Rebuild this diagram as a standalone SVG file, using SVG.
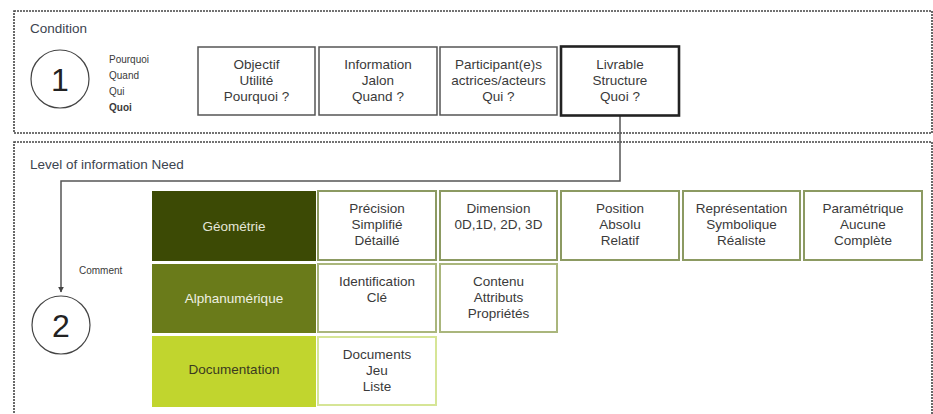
<svg xmlns="http://www.w3.org/2000/svg" width="933" height="414" viewBox="0 0 933 414">
<defs>
<style>
text{font-family:"Liberation Sans",Arial,sans-serif;fill:#3a3a3a}
.t{font-size:13.5px;text-anchor:middle}
.s{font-size:10px}
.h{font-size:13.5px;fill:#3c4450}
.zone{fill:none;stroke:#444;stroke-width:1.6;stroke-dasharray:2 1}
.q{fill:#fff;stroke:#555;stroke-width:1.5}
.circ{fill:#fff;stroke:#444;stroke-width:1.2}
.num{font-size:32px;text-anchor:middle;fill:#222}
.r1{fill:#fff;stroke:#8c9a62;stroke-width:2}
.r2{fill:#fff;stroke:#aab67c;stroke-width:2}
.r3{fill:#fff;stroke:#d6e596;stroke-width:2}
.lab{font-size:13.5px;text-anchor:middle}
.conn{fill:none;stroke:#555;stroke-width:1.5}
</style>
<marker id="arr" viewBox="0 0 10 10" refX="9" refY="5" markerWidth="6" markerHeight="6" orient="auto" markerUnits="userSpaceOnUse">
<path d="M0,0 L10,5 L0,10 z" fill="#444"/>
</marker>
</defs>

<g id="zone-condition">
<rect class="zone" x="14" y="11" width="918" height="122"/>
<text class="h" x="30" y="33">Condition</text>
</g>
<g id="zone-loin">
<rect class="zone" x="14" y="142" width="918" height="290"/>
<text class="h" x="30" y="169">Level of information Need</text>
</g>

<g id="connectors">
<path class="conn" d="M620,116 V181 H61 V292" marker-end="url(#arr)"/>
</g>

<g id="circle-1">
<circle class="circ" cx="60" cy="79" r="29"/>
<text class="num" x="60" y="91">1</text>
</g>
<g id="questions">
<text class="s" x="109" y="63">Pourquoi</text>
<text class="s" x="109" y="79">Quand</text>
<text class="s" x="109" y="95">Qui</text>
<text class="s" x="109" y="111" font-weight="bold">Quoi</text>
</g>

<g id="objectif">
<rect class="q" x="198" y="47" width="117" height="68"/>
<text class="t" x="256.5" y="69">Objectif</text>
<text class="t" x="256.5" y="85">Utilité</text>
<text class="t" x="256.5" y="101">Pourquoi ?</text>
</g>
<g id="information">
<rect class="q" x="319" y="47" width="118" height="68"/>
<text class="t" x="378" y="69">Information</text>
<text class="t" x="378" y="85">Jalon</text>
<text class="t" x="378" y="101">Quand ?</text>
</g>
<g id="participants">
<rect class="q" x="440" y="47" width="117" height="68"/>
<text class="t" x="498.5" y="69">Participant(e)s</text>
<text class="t" x="498.5" y="85">actrices/acteurs</text>
<text class="t" x="498.5" y="101">Qui ?</text>
</g>
<g id="livrable">
<rect x="561" y="46.5" width="118" height="69" fill="#fff" stroke="#222" stroke-width="2.6"/>
<text class="t" x="620" y="69">Livrable</text>
<text class="t" x="620" y="85">Structure</text>
<text class="t" x="620" y="101">Quoi ?</text>
</g>

<g id="circle-2">
<circle class="circ" cx="61" cy="325" r="29"/>
<text class="num" x="61" y="337">2</text>
</g>
<g id="comment">
<text class="s" x="79" y="274">Comment</text>
</g>

<g id="geometrie">
<rect x="152" y="191" width="164" height="70" fill="#3c4a05"/>
<text class="lab" x="234" y="231" style="fill:#e4e6d8">Géométrie</text>
</g>
<g id="alphanumerique">
<rect x="152" y="264" width="164" height="69" fill="#6a7b1a"/>
<text class="lab" x="234" y="303" style="fill:#eef0e2">Alphanumérique</text>
</g>
<g id="documentation">
<rect x="152" y="336" width="164" height="71" fill="#c1d52e"/>
<text class="lab" x="234" y="374" style="fill:#3a3a20">Documentation</text>
</g>

<g id="precision">
<rect class="r1" x="318" y="191" width="118" height="69"/>
<text class="t" x="377" y="213">Précision</text>
<text class="t" x="377" y="229">Simplifié</text>
<text class="t" x="377" y="245">Détaillé</text>
</g>
<g id="dimension">
<rect class="r1" x="440" y="191" width="117" height="69"/>
<text class="t" x="498.5" y="213">Dimension</text>
<text class="t" x="498.5" y="229">0D,1D, 2D, 3D</text>
</g>
<g id="position">
<rect class="r1" x="561" y="191" width="118" height="69"/>
<text class="t" x="620" y="213">Position</text>
<text class="t" x="620" y="229">Absolu</text>
<text class="t" x="620" y="245">Relatif</text>
</g>
<g id="representation">
<rect class="r1" x="683" y="191" width="117" height="69"/>
<text class="t" x="741.5" y="213">Représentation</text>
<text class="t" x="741.5" y="229">Symbolique</text>
<text class="t" x="741.5" y="245">Réaliste</text>
</g>
<g id="parametrique">
<rect class="r1" x="804" y="191" width="118" height="69"/>
<text class="t" x="863" y="213">Paramétrique</text>
<text class="t" x="863" y="229">Aucune</text>
<text class="t" x="863" y="245">Complète</text>
</g>

<g id="identification">
<rect class="r2" x="318" y="264" width="118" height="68"/>
<text class="t" x="377" y="286">Identification</text>
<text class="t" x="377" y="302">Clé</text>
</g>
<g id="contenu">
<rect class="r2" x="440" y="264" width="117" height="68"/>
<text class="t" x="498.5" y="286">Contenu</text>
<text class="t" x="498.5" y="302">Attributs</text>
<text class="t" x="498.5" y="318">Propriétés</text>
</g>

<g id="documents">
<rect class="r3" x="318" y="337" width="118" height="68"/>
<text class="t" x="377" y="359">Documents</text>
<text class="t" x="377" y="375">Jeu</text>
<text class="t" x="377" y="391">Liste</text>
</g>
</svg>
